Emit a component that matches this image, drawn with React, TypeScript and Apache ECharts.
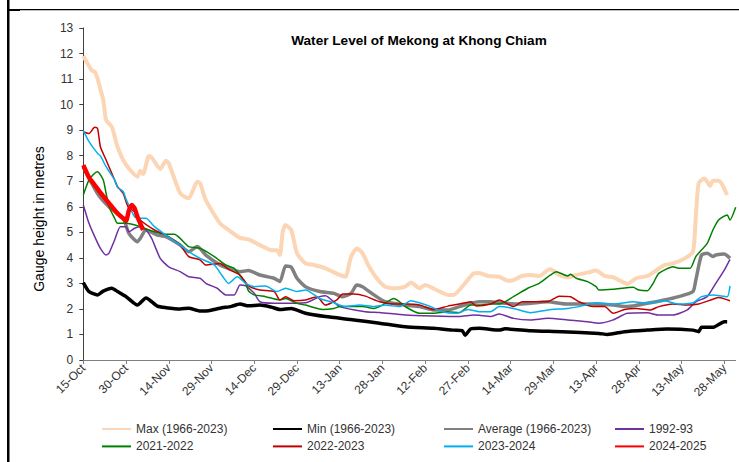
import React, { useEffect, useRef } from 'react';
import * as echarts from 'echarts';

// Season runs from 15 October to 1 June (one category per day).
const seasonMonths: [string, number][] = [
  ['Oct', 31], ['Nov', 30], ['Dec', 31], ['Jan', 31], ['Feb', 28],
  ['Mar', 31], ['Apr', 30], ['May', 31], ['Jun', 1],
];
const seasonStartDay = 15;

const dayLabels: string[] = [];
seasonMonths.forEach(([name, last], i) => {
  for (let d = i === 0 ? seasonStartDay : 1; d <= last; d++) dayLabels.push(`${d}-${name}`);
});

// Gauge height (m), as [day index from 15-Oct, value]
const maxLevels = [
  [0, 11.9], [3, 11.33], [4, 11.29], [5, 11.03], [6, 10.6], [7, 10.18], [8, 9.4], [10, 9.13],
  [12, 8.35], [14, 7.83], [16, 7.5], [19, 7.18], [20, 7.41], [21, 7.28], [23, 7.99], [24, 7.93],
  [27, 7.48], [29, 7.8], [30, 7.7], [34, 6.53], [37, 6.33], [40, 6.98], [41, 6.92], [43, 6.26],
  [48, 5.35], [51, 5.09], [55, 4.78], [58, 4.72], [62, 4.5], [66, 4.3], [68, 4.3], [69, 4.11],
  [70, 5.02], [71, 5.29], [73, 5.09], [75, 4.18], [78, 3.78], [81, 3.72], [85, 3.59], [90, 3.33],
  [92, 3.26], [94, 4.05], [96, 4.37], [98, 4.18], [100, 3.72], [103, 3.2], [106, 2.87], [110, 2.81],
  [113, 2.87], [115, 3.03], [118, 2.81], [120, 2.94], [124, 2.74], [128, 2.55], [130, 2.55],
  [133, 2.87], [137, 3.39], [139, 3.41], [142, 3.29], [146, 3.26], [149, 3.1], [151, 3.13],
  [154, 3.29], [157, 3.33], [160, 3.29], [163, 3.52], [164, 3.55], [167, 3.33], [170, 3.24],
  [173, 3.33], [177, 3.42], [180, 3.5], [183, 3.29], [186, 3.24], [189, 3.07], [191, 2.98],
  [194, 3.2], [198, 3.29], [201, 3.5], [204, 3.72], [207, 3.78], [211, 3.97], [214, 4.24],
  [215, 5.61], [216, 6.92], [218, 7.11], [219, 6.98], [220, 6.81], [221, 7.02], [223, 7.02],
  [224, 6.92], [226, 6.46],
];

const minLevels = [
  [0, 3.03], [2, 2.68], [5, 2.55], [7, 2.7], [10, 2.81], [12, 2.68], [15, 2.48], [19, 2.15],
  [22, 2.43], [26, 2.11], [29, 2.05], [34, 2.0], [37, 2.03], [41, 1.92], [44, 1.93], [48, 2.03],
  [52, 2.1], [55, 2.19], [58, 2.12], [62, 2.15], [66, 2.07], [69, 1.98], [73, 2.02], [78, 1.83],
  [85, 1.7], [95, 1.57], [104, 1.44], [113, 1.3], [123, 1.24], [130, 1.17], [133, 1.15],
  [134, 0.97], [136, 1.22], [139, 1.24], [146, 1.17], [148, 1.22], [157, 1.15], [168, 1.11],
  [181, 1.04], [184, 1.0], [190, 1.11], [198, 1.17], [205, 1.21], [214, 1.17], [216, 1.11],
  [217, 1.28], [221, 1.28], [225, 1.5], [226, 1.5],
];

const averageLevels = [
  [0, 7.55], [5, 6.52], [9, 6.0], [14, 5.55], [16, 4.96], [19, 4.63], [20, 4.76], [22, 5.09],
  [26, 4.89], [29, 4.83], [34, 4.5], [37, 4.24], [40, 4.44], [43, 4.11], [48, 3.72], [51, 3.59],
  [55, 3.46], [58, 3.5], [62, 3.33], [67, 3.2], [69, 3.07], [71, 3.68], [73, 3.63], [75, 3.2],
  [78, 2.87], [83, 2.68], [88, 2.61], [91, 2.48], [94, 2.61], [96, 2.94], [98, 2.87], [102, 2.55],
  [106, 2.28], [113, 2.15], [118, 2.09], [123, 1.96], [128, 1.96], [132, 2.09], [136, 2.22],
  [139, 2.28], [143, 2.28], [146, 2.24], [153, 2.19], [163, 2.28], [170, 2.19], [178, 2.19],
  [186, 2.15], [191, 2.09], [198, 2.22], [204, 2.35], [209, 2.48], [214, 2.68], [215, 3.13],
  [217, 4.11], [219, 4.18], [221, 4.05], [222, 4.11], [225, 4.15], [227, 3.98],
];

const levels1992 = [
  [0, 6.07], [2, 5.35], [4, 4.83], [6, 4.37], [8, 4.11], [9, 4.18], [11, 4.7], [13, 5.22],
  [15, 5.22], [16, 5.02], [18, 5.16], [20, 5.22], [22, 5.09], [24, 4.76], [27, 3.98], [30, 3.65],
  [34, 3.46], [37, 3.26], [41, 3.2], [43, 3.0], [47, 2.81], [50, 2.55], [53, 2.55], [55, 2.94],
  [57, 2.9], [60, 2.61], [62, 2.28], [67, 2.22], [78, 2.24], [83, 2.48], [85, 2.52], [90, 2.09],
  [99, 1.89], [104, 1.86], [113, 1.76], [123, 1.72], [132, 1.7], [137, 1.76], [139, 1.75],
  [143, 1.7], [146, 1.8], [151, 1.63], [157, 1.57], [163, 1.63], [170, 1.57], [177, 1.5],
  [181, 1.44], [186, 1.57], [191, 1.83], [198, 1.85], [202, 1.76], [207, 1.76], [212, 1.96],
  [215, 2.28], [219, 2.48], [222, 3.0], [225, 3.52], [227, 3.94],
];

const levels2021 = [
  [0, 6.46], [2, 7.05], [4, 7.31], [5, 7.37], [7, 7.05], [8, 6.53], [9, 6.0], [11, 5.55],
  [12, 5.35], [15, 5.35], [20, 5.22], [23, 5.09], [27, 4.96], [29, 4.92], [32, 4.92], [34, 4.76],
  [37, 4.44], [41, 4.37], [46, 4.05], [50, 3.72], [53, 3.59], [55, 3.3], [57, 3.0], [58, 2.7],
  [60, 2.55], [64, 2.48], [69, 2.35], [71, 2.41], [75, 2.22], [78, 2.15], [84, 1.98], [88, 2.02],
  [90, 2.09], [98, 2.09], [102, 2.02], [105, 2.15], [109, 2.41], [111, 2.28], [113, 2.09],
  [118, 1.83], [123, 1.83], [128, 1.89], [132, 1.85], [136, 2.15], [139, 2.15], [143, 2.19],
  [146, 2.19], [151, 2.48], [156, 2.81], [160, 3.0], [164, 3.33], [166, 3.46], [170, 3.29],
  [171, 3.36], [173, 3.2], [177, 3.07], [180, 2.87], [181, 2.74], [186, 2.77], [193, 2.85],
  [195, 2.74], [198, 2.71], [200, 3.0], [202, 3.39], [207, 3.65], [209, 3.59], [213, 3.59],
  [215, 4.05], [219, 4.57], [221, 5.09], [223, 5.48], [226, 5.68], [227, 5.48], [229, 5.98],
];

const levels2022 = [
  [0, 8.94], [2, 8.87], [4, 9.11], [5, 9.07], [6, 8.35], [8, 7.83], [11, 7.05], [12, 6.79],
  [14, 6.52], [15, 6.2], [16, 5.95], [18, 5.81], [20, 5.48], [25, 5.09], [29, 4.89], [34, 4.5],
  [37, 4.05], [41, 3.92], [43, 3.72], [48, 3.78], [51, 3.55], [55, 3.33], [58, 2.9], [62, 2.74],
  [67, 2.68], [69, 2.35], [71, 2.48], [74, 2.32], [78, 2.35], [82, 2.48], [85, 2.15], [89, 2.35],
  [91, 2.58], [95, 2.58], [99, 2.5], [104, 2.28], [109, 2.19], [113, 2.19], [118, 2.15],
  [123, 1.98], [128, 2.11], [132, 2.19], [136, 2.28], [138, 2.11], [143, 2.19], [146, 2.35],
  [151, 2.09], [154, 2.28], [163, 2.28], [167, 2.5], [171, 2.48], [174, 2.28], [179, 2.09],
  [183, 2.09], [186, 1.83], [190, 1.98], [194, 2.02], [199, 1.96], [202, 2.09], [207, 2.19],
  [212, 2.15], [216, 2.19], [221, 2.38], [223, 2.45], [227, 2.32],
];

const levels2023 = [
  [0, 8.98], [2, 8.55], [5, 8.09], [6, 7.99], [8, 7.57], [11, 7.05], [12, 6.76], [14, 6.6],
  [15, 6.3], [18, 5.61], [20, 5.55], [22, 5.55], [25, 5.22], [29, 4.89], [34, 4.5], [37, 4.24],
  [41, 3.98], [46, 3.72], [49, 3.26], [51, 3.0], [54, 3.26], [57, 3.0], [58, 2.94], [60, 2.87],
  [64, 2.9], [68, 2.68], [71, 2.81], [75, 2.68], [78, 2.74], [83, 2.41], [88, 2.24], [92, 2.09],
  [97, 2.15], [102, 2.09], [106, 2.15], [111, 2.09], [115, 2.32], [118, 2.24], [122, 2.09],
  [126, 1.89], [131, 1.83], [135, 1.98], [139, 1.89], [143, 1.89], [146, 2.09], [151, 2.02],
  [157, 1.85], [163, 1.96], [170, 2.02], [174, 2.09], [180, 2.24], [186, 2.19], [193, 2.28],
  [198, 2.22], [204, 2.32], [209, 2.19], [214, 2.24], [217, 2.48], [221, 2.55], [226, 2.48],
  [227, 2.9],
];

const levels2024 = [
  [0, 7.63], [2, 7.15], [4, 6.85], [6, 6.55], [9, 6.14], [12, 5.74], [14, 5.55], [15, 5.45],
  [16, 5.85], [17, 6.07], [18, 5.94], [19, 5.61], [21, 5.09],
];

const seriesDefs = [
  { name: 'Max (1966-2023)', data: maxLevels, color: '#FCD5B4', width: 4 },
  { name: 'Min (1966-2023)', data: minLevels, color: '#000000', width: 3.5 },
  { name: 'Average (1966-2023)', data: averageLevels, color: '#808080', width: 3.5 },
  { name: '1992-93', data: levels1992, color: '#7030A0', width: 1.5 },
  { name: '2021-2022', data: levels2021, color: '#008000', width: 1.5 },
  { name: '2022-2023', data: levels2022, color: '#C00000', width: 1.5 },
  { name: '2023-2024', data: levels2023, color: '#00B0F0', width: 1.5 },
  { name: '2024-2025', data: levels2024, color: '#FF0000', width: 4.5 },
];

// Legend is laid out in four columns of two entries each.
const legendColumns = [
  ['Max (1966-2023)', '2021-2022'],
  ['Min (1966-2023)', '2022-2023'],
  ['Average (1966-2023)', '2023-2024'],
  ['1992-93', '2024-2025'],
];

const FONT = '"Liberation Sans", Arial, sans-serif';

export default function App() {
  const ref = useRef<HTMLDivElement>(null);

  useEffect(() => {
    if (!ref.current) return;
    const chart = echarts.init(ref.current, undefined, { renderer: 'svg' });

    chart.setOption({
      animation: false,
      backgroundColor: '#ffffff',
      textStyle: { fontFamily: FONT },
      grid: { left: 83.3, right: 3.3, top: 28, bottom: 102, containLabel: false },
      xAxis: {
        type: 'category',
        data: dayLabels,
        boundaryGap: false,
        axisLine: { lineStyle: { color: '#808080', width: 1 } },
        axisTick: { interval: 14, length: 4, lineStyle: { color: '#808080' } },
        axisLabel: {
          interval: 14,
          rotate: 45,
          margin: 6,
          fontSize: 12,
          color: '#333333',
          fontFamily: FONT,
        },
        splitLine: { show: false },
      },
      yAxis: {
        type: 'value',
        min: 0,
        max: 13,
        interval: 1,
        axisLine: { show: true, lineStyle: { color: '#404040', width: 1 } },
        axisTick: { show: true, length: 4, lineStyle: { color: '#404040' } },
        axisLabel: { margin: 10, fontSize: 12, color: '#333333', fontFamily: FONT },
        splitLine: { show: false },
      },
      legend: legendColumns.map((names, i) => ({
        data: names,
        orient: 'vertical',
        left: 101 + i * 171,
        top: 422,
        padding: 0,
        itemWidth: 29,
        itemHeight: 14,
        itemGap: 3.4,
        selectedMode: false,
        // line-only keys: hide the marker drawn over the line sample
        itemStyle: { opacity: 0 },
        textStyle: { fontSize: 12, color: '#333333', fontFamily: FONT, lineHeight: 14 },
      })),
      series: seriesDefs.map((s) => ({
        type: 'line',
        name: s.name,
        data: s.data,
        showSymbol: false,
        symbol: 'none',
        smooth: 0.2,
        lineStyle: { color: s.color, width: s.width },
        itemStyle: { color: s.color },
        emphasis: { disabled: true },
      })),
      graphic: [
        {
          type: 'text',
          x: 419,
          y: 40,
          style: {
            text: 'Water Level of Mekong at Khong Chiam',
            font: `bold 13.6px ${FONT}`,
            fill: '#000000',
            align: 'center',
            verticalAlign: 'middle',
          },
        },
        {
          type: 'text',
          x: 39,
          y: 219,
          rotation: Math.PI / 2,
          style: {
            text: 'Gauge height in metres',
            font: `14px ${FONT}`,
            fill: '#000000',
            align: 'center',
            verticalAlign: 'middle',
          },
        },
        { type: 'rect', shape: { x: 7, y: 0, width: 2.5, height: 462 }, style: { fill: '#000000' } },
        { type: 'rect', shape: { x: 9, y: 9, width: 730, height: 1.2 }, style: { fill: '#000000' } },
        { type: 'rect', shape: { x: 9, y: 10, width: 11, height: 1 }, style: { fill: '#000000' } },
      ],
    });

    return () => chart.dispose();
  }, []);

  return (
    <div
      ref={ref}
      style={{ position: 'fixed', left: 0, top: 0, width: 739, height: 462, background: '#fff' }}
    />
  );
}
